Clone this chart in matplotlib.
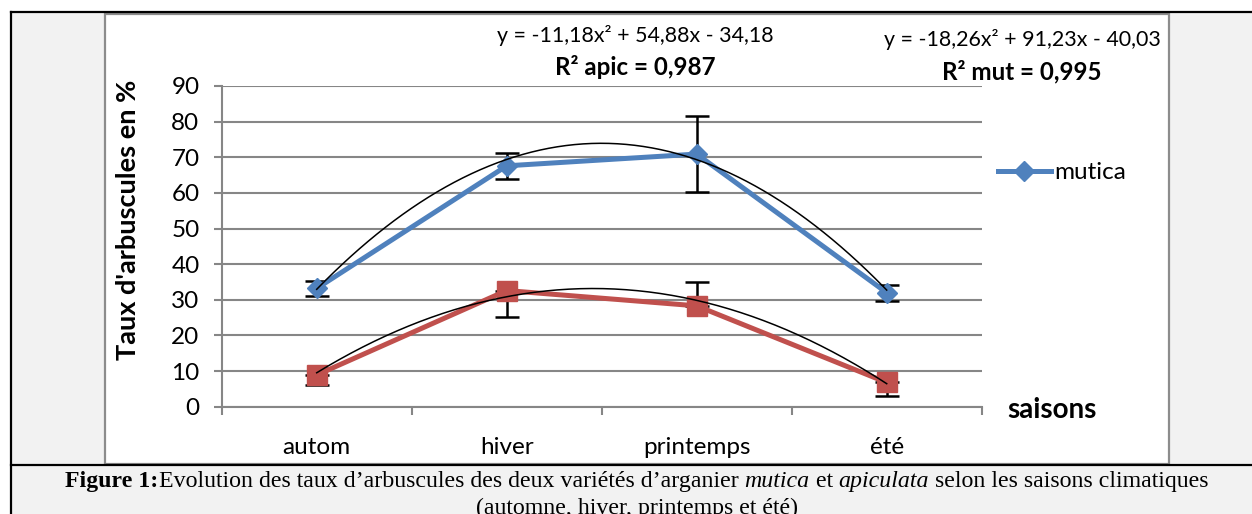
import numpy as np
import matplotlib
matplotlib.use("Agg")
import matplotlib.pyplot as plt
from matplotlib.patches import Rectangle
from matplotlib.lines import Line2D

# ---- data ----
saisons = ["autom", "hiver", "printemps", "été"]
mutica = [33.2, 67.6, 70.9, 32.0]
mutica_err = [2.2, 3.6, 10.7, 2.2]
apiculata = [8.9, 32.6, 28.3, 6.8]
apiculata_err_low = [2.9, 7.3, 0.0, 3.8]
apiculata_err_high = [0.0, 0.0, 6.8, 0.0]
# polynomial trend coefficients (a x^2 + b x + c)
coef_mut = [-18.26, 91.23, -40.03]
coef_apic = [-11.18, 54.88, -34.18]
r2_mut = "0,995"
r2_apic = "0,987"
yticks = list(range(0, 100, 10))

BLUE = "#4F81BD"
RED = "#C0504D"
GRID = "#868686"
BG = "#F2F2F2"

W, H = 1252, 514
fig = plt.figure(figsize=(W / 100, H / 100), dpi=100)
fig.patch.set_facecolor("white")

def fx(px):
    return px / W

def fy(py):
    return (H - py) / H

# page background pieces and frame
fig.patches.append(Rectangle((fx(11), fy(514)), fx(1252 - 11), (514 - 12) / H,
                             transform=fig.transFigure, facecolor=BG,
                             edgecolor="none", zorder=0))
fig.patches.append(Rectangle((fx(105), fy(464)), fx(1169 - 105), (464 - 14) / H,
                             transform=fig.transFigure, facecolor="white",
                             edgecolor="#8C8C8C", linewidth=1.6, zorder=1))
for (x0, y0, x1, y1) in [(11, 12, 1252, 12), (11, 12, 11, 514), (11, 465, 1252, 465)]:
    fig.lines.append(Line2D([fx(x0), fx(x1)], [fy(y0), fy(y1)],
                            transform=fig.transFigure, color="black",
                            linewidth=1.6, zorder=2))

# plotting area
ax_l, ax_r, ax_t, ax_b = 221.7, 981.7, 86.0, 406.7
ax = fig.add_axes([fx(ax_l), fy(ax_b), fx(ax_r - ax_l), (ax_b - ax_t) / H], zorder=3)
ax.patch.set_alpha(0)

x = np.arange(1, len(saisons) + 1)
ax.set_xlim(0.5, len(saisons) + 0.5)
ax.set_ylim(0, 90)

ax.set_yticks(yticks)
ax.yaxis.grid(True, color=GRID, linewidth=1.5)
ax.set_axisbelow(True)
ax.set_xticks(np.arange(0.5, len(saisons) + 1, 1.0))
ax.set_xticklabels([])
ax.set_xticks(x, minor=True)
ax.set_xticklabels(saisons, minor=True)

TICK_SIZE = 17.5
for lab in ax.get_yticklabels():
    lab.set_fontfamily("Lato"); lab.set_fontsize(TICK_SIZE)
for lab in ax.get_xticklabels(minor=True):
    lab.set_fontfamily("Lato"); lab.set_fontsize(TICK_SIZE)

ax.tick_params(axis="y", which="major", direction="out", length=6, width=1.5,
               color=GRID, pad=10)
ax.tick_params(axis="x", which="major", direction="out", length=6, width=1.5,
               color=GRID)
ax.tick_params(axis="x", which="minor", length=0, pad=22)
for s in ("top", "right"):
    ax.spines[s].set_visible(False)
for s in ("left", "bottom"):
    ax.spines[s].set_color(GRID)
    ax.spines[s].set_linewidth(1.5)

# error bars (behind the markers)
ax.errorbar(x, mutica, yerr=mutica_err, fmt="none", ecolor="black",
            elinewidth=1.8, capsize=8.5, capthick=1.8, zorder=3)
ax.errorbar(x, apiculata, yerr=[apiculata_err_low, apiculata_err_high], fmt="none",
            ecolor="black", elinewidth=1.8, capsize=8.5, capthick=1.8, zorder=3)

# series
l_mut, = ax.plot(x, mutica, color=BLUE, linewidth=3.6, marker="D", markersize=10.5,
                 label="mutica", zorder=4)
ax.plot(x, apiculata, color=RED, linewidth=3.6, marker="s", markersize=14,
        zorder=4)

# quadratic trend curves
xs = np.linspace(1, len(saisons), 200)
ax.plot(xs, np.polyval(coef_mut, xs), color="black", linewidth=1.1, zorder=5)
ax.plot(xs, np.polyval(coef_apic, xs), color="black", linewidth=1.1, zorder=5)

ax.legend(handles=[l_mut], loc="center left", bbox_to_anchor=(1.021, 0.729),
          frameon=False, borderpad=0, borderaxespad=0, handlelength=2.2,
          handletextpad=0.12, prop=dict(family="Lato", size=TICK_SIZE))

def fmt(v):
    return f"{abs(v):.2f}".replace(".", ",")

def eq_text(c):
    return (f"y = {'-' if c[0] < 0 else ''}{fmt(c[0])}x² "
            f"{'-' if c[1] < 0 else '+'} {fmt(c[1])}x "
            f"{'-' if c[2] < 0 else '+'} {fmt(c[2])}")

EQ_SIZE = 15.4
R2_SIZE = 17.4
fig.text(fx(635), fy(35), eq_text(coef_apic), ha="center", va="center",
         family="Lato", size=EQ_SIZE, zorder=6)
fig.text(fx(635), fy(67), f"R² apic = {r2_apic}", ha="center", va="center",
         family="Lato", size=R2_SIZE, weight="bold", zorder=6)
fig.text(fx(1022), fy(40), eq_text(coef_mut), ha="center", va="center",
         family="Lato", size=EQ_SIZE, zorder=6)
fig.text(fx(1022), fy(72), f"R² mut = {r2_mut}", ha="center", va="center",
         family="Lato", size=R2_SIZE, weight="bold", zorder=6)

fig.text(fx(128), fy(220), "Taux d'arbuscules en %", rotation=90, ha="center",
         va="center", family="Lato", size=19.5, weight="bold", zorder=6)
fig.text(fx(1007), fy(418), "saisons", ha="left", va="baseline",
         family="Lato", size=20, weight="bold", zorder=6)

# caption, built from consecutive runs of differently styled text
cap_runs = [
    ("Figure 1:", dict(weight="bold")),
    ("Evolution des taux d’arbuscules des deux variétés d’arganier ", {}),
    ("mutica", dict(style="italic")),
    (" et ", {}),
    ("apiculata", dict(style="italic")),
    (" selon les saisons climatiques", {}),
]
renderer = fig.canvas.get_renderer()
cap_size = 17.2
pieces = []
for txt, kw in cap_runs:
    t = fig.text(0, fy(487), txt, ha="left", va="baseline",
                 family="Liberation Serif", size=cap_size, zorder=6, **kw)
    pieces.append(t)
widths = [p.get_window_extent(renderer).width for p in pieces]
cur = 637 - sum(widths) / 2
for p, w in zip(pieces, widths):
    p.set_x(fx(cur))
    cur += w
fig.text(fx(637), fy(514), "(automne, hiver, printemps et été)", ha="center",
         va="baseline", family="Liberation Serif", size=cap_size, zorder=6)

fig.savefig("out.png", dpi=100)
